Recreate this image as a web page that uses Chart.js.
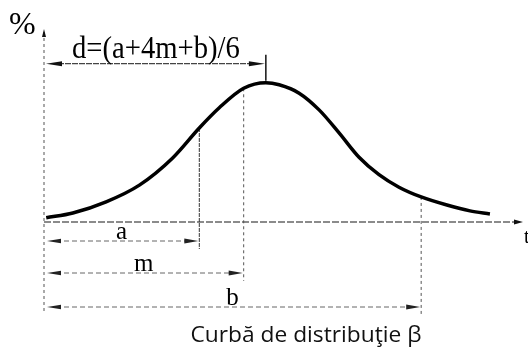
<!DOCTYPE html>
<html>
<head>
<meta charset="utf-8">
<script src="https://cdn.jsdelivr.net/npm/chart.js@4/dist/chart.umd.min.js"></script>
<style>
  html, body { margin: 0; padding: 0; background: #fff; }
  #wrap { width: 528px; height: 349px; position: relative; }
</style>
</head>
<body>
<div id="wrap"><canvas id="c" width="528" height="349"></canvas></div>
<script>
// Beta distribution curve (time units on x, % on y)
const curveX = [0.1, 1.3, 2.8, 4.3, 5.8, 7, 7.9, 9, 10, 10.6, 11.5, 12.4, 13.3, 14.2, 15.1, 16, 17, 18.2, 19.2, 20.1];
const curveY = [0.6, 1.3, 2.9, 5.3, 9.2, 13.5, 16.4, 19.2, 20, 19.7, 18.5, 16.1, 12.8, 9.3, 6.8, 5.0, 3.6, 2.4, 1.6, 1.15];

// Estimates: optimistic (a), most likely (m), pessimistic (b)
const markNames = ['a', 'm', 'b'];
const markValues = [7, 9, 17];
// Expected duration d = (a + 4m + b) / 6
const meanLabel = 'd=(a+4m+b)/6';
const meanValue = (markValues[0] + 4 * markValues[1] + markValues[2]) / 6;

const yAxisLabel = '%';
const xAxisLabel = 't';
const chartTitle = 'Curbă de distribuţie β';

const SERIF = '"Liberation Serif", "DejaVu Serif", serif';
const SANS = '"Open Sans", "DejaVu Sans", sans-serif';

function arrowHead(ctx, x, y, dir, len, half) {
  // dir: 'left' | 'right' | 'up'
  ctx.beginPath();
  if (dir === 'right') {
    ctx.moveTo(x, y); ctx.lineTo(x - len, y - half); ctx.lineTo(x - len, y + half);
  } else if (dir === 'left') {
    ctx.moveTo(x, y); ctx.lineTo(x + len, y - half); ctx.lineTo(x + len, y + half);
  } else {
    ctx.moveTo(x, y); ctx.lineTo(x - half, y + len); ctx.lineTo(x + half, y + len);
  }
  ctx.closePath();
  ctx.fill();
}

function line(ctx, x0, y0, x1, y1, color, width, dash) {
  ctx.save();
  ctx.strokeStyle = color;
  ctx.lineWidth = width;
  ctx.setLineDash(dash || []);
  ctx.beginPath();
  ctx.moveTo(x0, y0);
  ctx.lineTo(x1, y1);
  ctx.stroke();
  ctx.restore();
}

function fittedText(ctx, text, cx, baseline, font, width) {
  ctx.save();
  ctx.font = font;
  ctx.textAlign = 'center';
  ctx.textBaseline = 'alphabetic';
  const w = ctx.measureText(text).width;
  const sx = width ? width / w : 1;
  ctx.translate(cx, baseline);
  ctx.scale(sx, 1);
  ctx.fillText(text, 0, 0);
  ctx.restore();
}

const dimensionPlugin = {
  id: 'dimensions',
  beforeDatasetsDraw(chart) {
    const ctx = chart.ctx;
    const xs = chart.scales.x, ys = chart.scales.y;
    const x0 = xs.getPixelForValue(0);
    const base = ys.getPixelForValue(0);
    ctx.save();
    ctx.fillStyle = '#111';

    // vertical axis (dashed) with arrow
    line(ctx, x0, 32, x0, base + 91, '#555', 1, [3, 3]);
    arrowHead(ctx, x0, 29, 'up', 8, 2);

    // horizontal axis with arrow
    line(ctx, x0, base, xs.right - 1, base, '#666', 1.4, [7, 2]);
    arrowHead(ctx, xs.right + 2, base, 'right', 9, 2.5);

    // a, m, b: vertical drop lines and dimension arrows
    const rowOffsets = [19, 51, 85];
    markValues.forEach((v, i) => {
      const px = xs.getPixelForValue(v);
      const idx = curveX.indexOf(v);
      const top = ys.getPixelForValue(curveY[idx]);
      const rowY = base + rowOffsets[i];
      line(ctx, px, top, px, rowY + 8, i === 0 ? '#333' : '#555', 1, i === 0 ? [4, 1] : [3, 3]);
      line(ctx, x0 + 12, rowY, px - 12, rowY, '#666', 1, [5, 3]);
      ctx.fillStyle = '#222';
      arrowHead(ctx, x0 + 3, rowY, 'left', 14, 2.2);
      arrowHead(ctx, px - 1, rowY, 'right', 14, 2.5);
      ctx.fillStyle = '#000';
      fittedText(ctx, markNames[i], (x0 + px) / 2, rowY - 2, '25px ' + SERIF);
    });

    // expected value d: tick at the peak and dimension arrow above
    const dx = xs.getPixelForValue(meanValue);
    const peak = ys.getPixelForValue(curveY[curveX.indexOf(meanValue)]);
    const dy = peak - 19;
    line(ctx, dx, peak - 28, dx, peak - 2, '#000', 1.4);
    line(ctx, x0 + 14, dy, dx - 14, dy, '#444', 1.2, [6, 1]);
    ctx.fillStyle = '#111';
    arrowHead(ctx, x0 + 2, dy, 'left', 16, 2.5);
    arrowHead(ctx, dx - 1, dy, 'right', 16, 2.5);
    ctx.fillStyle = '#000';
    fittedText(ctx, meanLabel, (x0 + dx) / 2 + 1, dy - 6, '31px ' + SERIF, 168);

    // axis labels and caption
    ctx.textAlign = 'left';
    ctx.textBaseline = 'alphabetic';
    ctx.font = '32px ' + SERIF;
    ctx.fillText(yAxisLabel, 9, 34);
    ctx.font = '20px ' + SERIF;
    ctx.fillText(xAxisLabel, 524, base + 21);
    ctx.fillStyle = '#111';
    fittedText(ctx, chartTitle, 306, 342, '22px ' + SANS, 231);
    ctx.restore();
  }
};

new Chart(document.getElementById('c'), {
  type: 'line',
  data: {
    datasets: [{
      data: curveX.map((x, i) => ({ x: x, y: curveY[i] })),
      borderColor: '#000',
      borderWidth: 3.5,
      pointRadius: 0,
      fill: false,
      cubicInterpolationMode: 'monotone'
    }]
  },
  options: {
    responsive: false,
    animation: false,
    layout: { padding: { left: 44, right: 7, top: 27, bottom: 127 } },
    scales: {
      x: { type: 'linear', min: 0, max: 21.5, display: false },
      y: { min: 0, max: 28, display: false }
    },
    plugins: { legend: { display: false }, tooltip: { enabled: false } }
  },
  plugins: [dimensionPlugin]
});
</script>
</body>
</html>
